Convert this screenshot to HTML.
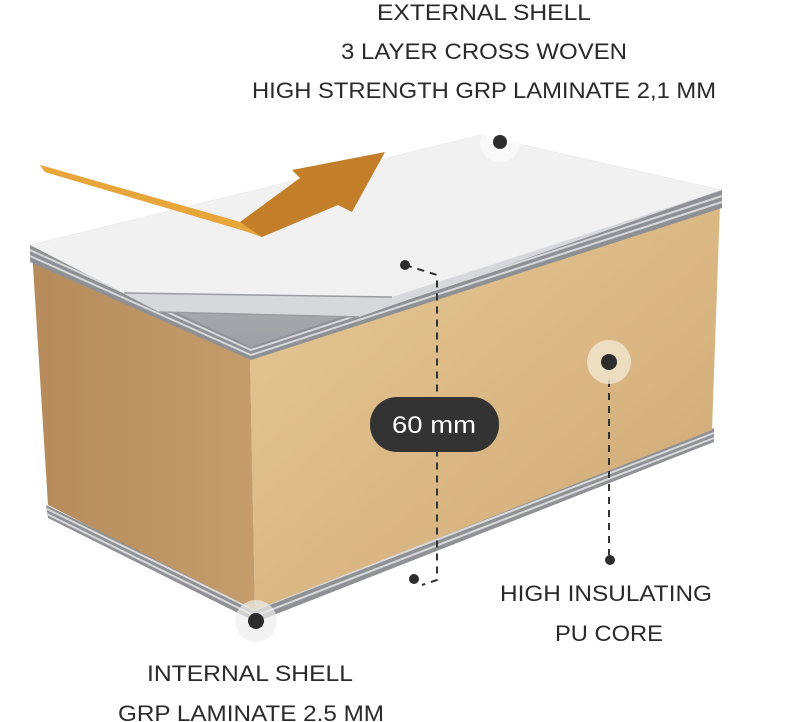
<!DOCTYPE html>
<html><head><meta charset="utf-8"><style>
html,body{margin:0;padding:0;background:#fff;}
svg{display:block;}
text{font-family:"Liberation Sans",sans-serif;fill:#2a2a2a;}
</style></head><body>
<svg width="804" height="722" viewBox="0 0 804 722" xmlns="http://www.w3.org/2000/svg">
<defs>
<linearGradient id="rf" x1="0" y1="0" x2="1" y2="1">
<stop offset="0" stop-color="#e6c995"/><stop offset="1" stop-color="#cfa875"/>
</linearGradient>
<linearGradient id="lf" x1="0" y1="0" x2="1" y2="0">
<stop offset="0" stop-color="#b58b5c"/><stop offset="1" stop-color="#c59d6c"/>
</linearGradient>
<linearGradient id="gr" x1="0" y1="0" x2="0" y2="1">
<stop offset="0" stop-color="#c9cacc"/><stop offset="1" stop-color="#9ea0a3"/>
</linearGradient>
</defs>
<!-- top text -->
<text x="484" y="20" font-size="22" text-anchor="middle" textLength="214" lengthAdjust="spacingAndGlyphs">EXTERNAL SHELL</text>
<text x="484" y="59" font-size="22" text-anchor="middle" textLength="286" lengthAdjust="spacingAndGlyphs">3 LAYER CROSS WOVEN</text>
<text x="484" y="98" font-size="22" text-anchor="middle" textLength="464" lengthAdjust="spacingAndGlyphs">HIGH STRENGTH GRP LAMINATE 2,1 MM</text>

<!-- bottom sheets -->
<polygon points="46,505 252,605 714,428 714,442 256,622 48,518" fill="#8f9194"/>
<polyline points="47,509 254,610 714,433" fill="none" stroke="#d8d9db" stroke-width="2"/>
<polyline points="47,514 255,616 714,438" fill="none" stroke="#d8d9db" stroke-width="2"/>
<!-- left face -->
<polygon points="32,250 250,356 255,610 48,505" fill="url(#lf)"/>
<!-- right face -->
<polygon points="250,356 720,205 712,430 255,610" fill="url(#rf)"/>
<!-- top sheets stack -->
<polygon points="30,245 480,135 722,190 722,208 251,360 30,262" fill="#8e9094"/>
<polyline points="30,250 251,350 722,196" fill="none" stroke="#d6d7d9" stroke-width="2"/>
<polyline points="30,256 251,355 722,202" fill="none" stroke="#d6d7d9" stroke-width="2"/>
<polygon points="30,245 480,135 722,190 251,347" fill="url(#gr)"/>
<polygon points="30,245 480,135 722,190 359,317 159,312" fill="#d7d8da"/>
<polygon points="30,245 480,135 722,190 392,297 124,293" fill="#f1f1f2"/>
<polyline points="124,293 392,297" stroke="#9a9c9f" stroke-width="1.5" fill="none"/>
<polyline points="159,312 359,317" stroke="#9a9c9f" stroke-width="1.5" fill="none"/>
<!-- arrow -->
<polygon points="40,165 240,222 300,178 292,170 385,152 352,212 338,205 262,237 245,231 45,172" fill="#c27e28"/>
<polygon points="40,165 240,222 262,237 245,231 45,172" fill="#e8a63a"/>

<!-- dashed lines -->
<polyline points="405,265 437,275 437,580 422,585" fill="none" stroke="#333" stroke-width="2" stroke-dasharray="7,6"/>
<line x1="609" y1="380" x2="609" y2="555" stroke="#333" stroke-width="2" stroke-dasharray="7,6"/>
<!-- dots -->
<circle cx="500" cy="142" r="20" fill="#fff" opacity="0.6"/>
<circle cx="500" cy="142" r="7" fill="#2d2d2d"/>
<circle cx="609" cy="362" r="22" fill="#f0e4cd" opacity="0.85"/>
<circle cx="609" cy="362" r="8" fill="#2d2d2d"/>
<circle cx="256" cy="621" r="21" fill="#eee" opacity="0.7"/>
<circle cx="256" cy="621" r="8" fill="#2d2d2d"/>
<circle cx="405" cy="265" r="5" fill="#2d2d2d"/>
<circle cx="610" cy="560" r="5" fill="#2d2d2d"/>
<circle cx="414" cy="579" r="5" fill="#2d2d2d"/>
<!-- pill -->
<rect x="370" y="397" width="129" height="55" rx="27" fill="#333"/>
<text x="434" y="433" font-size="24" text-anchor="middle" style="fill:#fff" textLength="84" lengthAdjust="spacingAndGlyphs">60 mm</text>
<!-- bottom labels -->
<text x="606" y="601" font-size="22" text-anchor="middle" textLength="212" lengthAdjust="spacingAndGlyphs">HIGH INSULATING</text>
<text x="609" y="641" font-size="22" text-anchor="middle" textLength="108" lengthAdjust="spacingAndGlyphs">PU CORE</text>
<text x="250" y="681" font-size="22" text-anchor="middle" textLength="206" lengthAdjust="spacingAndGlyphs">INTERNAL SHELL</text>
<text x="251" y="721" font-size="22" text-anchor="middle" textLength="266" lengthAdjust="spacingAndGlyphs">GRP LAMINATE 2.5 MM</text>
</svg>
</body></html>
